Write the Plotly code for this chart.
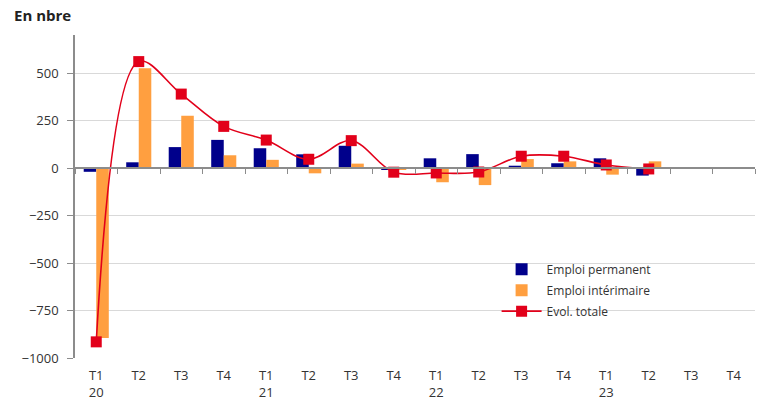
import plotly.graph_objects as go

quarters = ["T1<br>20", "T2", "T3", "T4", "T1<br>21", "T2", "T3", "T4",
            "T1<br>22", "T2", "T3", "T4", "T1<br>23", "T2", "T3", "T4"]
permanent = [-20, 30, 110, 148, 104, 72, 117, -10, 51, 73, 12, 25, 51, -40]
interim = [-895, 525, 275, 67, 43, -28, 23, -8, -75, -90, 47, 35, -35, 35]
total = [-915, 560, 389, 219, 147, 46, 144, -22, -26, -21, 62, 62, 16, -5]

x_idx = list(range(len(permanent)))
n_cat = len(quarters)

NAVY = "#00008B"
ORANGE = "#FF9F40"
RED = "#E2001A"
FONT = "Open Sans"

fig = go.Figure()
fig.add_trace(go.Bar(x=x_idx, y=permanent, name="Emploi permanent", legendgroup="a",
                     marker=dict(color=NAVY, line=dict(width=0))))
fig.add_trace(go.Bar(x=x_idx, y=interim, name="Emploi intérimaire", legendgroup="b",
                     marker=dict(color=ORANGE, line=dict(width=0))))
fig.add_trace(go.Scatter(x=x_idx, y=total, name="Evol. totale", legendgroup="c",
                         mode="lines+markers",
                         line=dict(color=RED, width=1.6, shape="spline", smoothing=1),
                         marker=dict(symbol="square", size=11, color=RED)))
# invisible trace to anchor the zero-level axis with boundary ticks
fig.add_trace(go.Scatter(x=[-0.5, n_cat - 0.5], y=[0, 0], xaxis="x2", mode="lines",
                         line=dict(width=0), showlegend=False, hoverinfo="skip"))

ymin, ymax = -1000, 700
zero_pos = (0 - ymin) / (ymax - ymin)

L, R, T, B = 67, 18, 27, 50
W, H = 765, 400

fig.update_layout(
    width=W, height=H,
    margin=dict(l=L, r=R, t=T, b=B, autoexpand=False),
    plot_bgcolor="white", paper_bgcolor="white",
    font=dict(family=FONT, size=13, color="#333333"),
    title=dict(text="<b>En nbre</b>", xref="container", yref="container",
               x=6 / W, y=1 - 8 / H, xanchor="left", yanchor="middle",
               font=dict(size=15, color="#222222", family=FONT)),
    barmode="group", bargap=0.41, bargroupgap=0,
    showlegend=True,
    legend=dict(x=0.62, y=0.32, xanchor="left", yanchor="top",
                traceorder="grouped", tracegroupgap=2,
                font=dict(size=12, color="#333333"), bgcolor="rgba(0,0,0,0)",
                itemwidth=40),
    xaxis=dict(range=[-0.5, n_cat - 0.5], tickmode="array",
               tickvals=list(range(n_cat)), ticktext=quarters, automargin=False,
               showline=False, showgrid=False, zeroline=False, ticks="",
               ticklabelstandoff=8,
               tickfont=dict(size=13, color="#333333")),
    xaxis2=dict(overlaying="x", anchor="free", position=zero_pos, automargin=False,
                range=[-0.5, n_cat - 0.5], tickmode="array",
                tickvals=[i - 0.5 for i in range(n_cat + 1)],
                showticklabels=False, showline=True, linecolor="#8c8c8c", linewidth=1.5,
                ticks="outside", ticklen=5, tickcolor="#8c8c8c", tickwidth=1,
                showgrid=False, zeroline=False),
    yaxis=dict(range=[ymin, ymax], tickmode="array", automargin=False,
               tickvals=[-1000, -750, -500, -250, 0, 250, 500],
               showline=True, linecolor="#8c8c8c", linewidth=1.5,
               ticks="outside", ticklen=6, tickcolor="#8c8c8c",
               ticklabelstandoff=6,
               showgrid=True, gridcolor="#d9d9d9", gridwidth=1, zeroline=False,
               tickfont=dict(size=13, color="#333333")),
)

fig.write_html("out.html")
